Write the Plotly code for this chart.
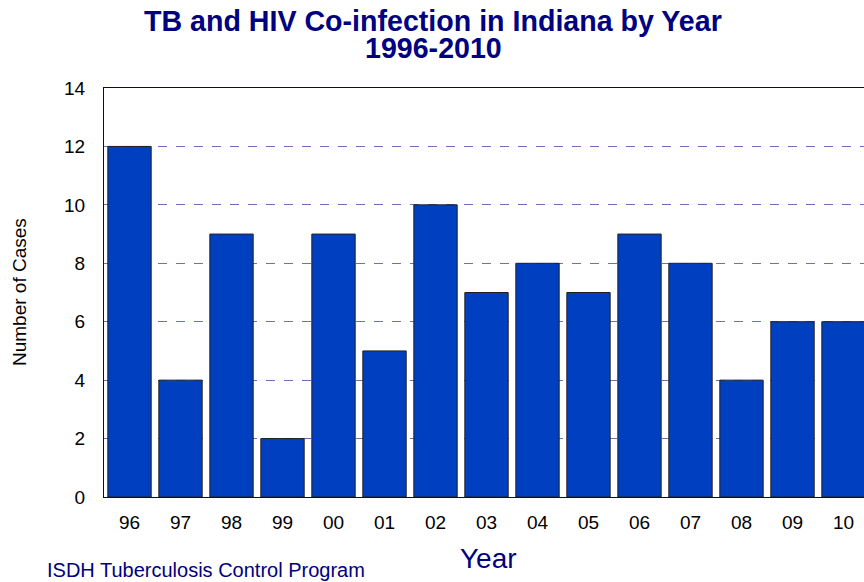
import plotly.graph_objects as go

years = ["96", "97", "98", "99", "00", "01", "02", "03", "04", "05", "06", "07", "08", "09", "10"]
cases = [12, 4, 9, 2, 9, 5, 10, 7, 8, 7, 9, 8, 4, 6, 6]
y_ticks = [0, 2, 4, 6, 8, 10, 12, 14]
title_lines = ["TB and HIV Co-infection in Indiana by Year", "1996-2010"]

NAVY = "#000080"
BAR = "#0040C0"
FONT = "Liberation Sans, Arial, sans-serif"

# plot area in pixels
L, T, B = 104, 88, 85
W, H = 870, 582
PW, PH = W - L - 1, H - T - B

fig = go.Figure(
    go.Bar(
        x=years,
        y=cases,
        marker=dict(color=BAR, line=dict(color="#202020", width=1)),
        hoverinfo="x+y",
    )
)

fig.update_layout(
    width=W,
    height=H,
    margin=dict(l=L, r=1, t=T, b=B),
    paper_bgcolor="white",
    plot_bgcolor="white",
    bargap=0.15,
    showlegend=False,
    font=dict(family=FONT, size=19, color="black"),
)

fig.update_xaxes(
    type="category",
    showline=True,
    linecolor=NAVY,
    linewidth=1,
    mirror=True,
    ticks="",
    tickfont=dict(size=19, color="black"),
    ticklabelstandoff=8,
    showgrid=False,
)

fig.update_yaxes(
    range=[0, 14],
    tickvals=y_ticks,
    showline=True,
    linecolor=NAVY,
    linewidth=1,
    mirror=True,
    ticks="",
    tickfont=dict(size=19, color="black"),
    ticklabelstandoff=14,
    showgrid=True,
    gridcolor="rgba(50,50,150,0.7)",
    griddash="dash",
    gridwidth=1,
    zeroline=False,
)

def px_x(x):
    return (x - L) / PW

def px_y(y):
    return (H - B - y) / PH

# title, two tightly spaced lines
for line, yc in zip(title_lines, [21, 48]):
    fig.add_annotation(
        text=f"<b>{line}</b>",
        xref="paper", yref="paper",
        x=px_x(433), y=px_y(yc),
        xanchor="center", yanchor="middle",
        showarrow=False,
        font=dict(family=FONT, size=28.6, color=NAVY),
    )

# axis titles
fig.add_annotation(
    text="Number of Cases",
    xref="paper", yref="paper",
    x=px_x(19), y=px_y(292),
    xanchor="center", yanchor="middle",
    textangle=-90,
    showarrow=False,
    font=dict(family=FONT, size=19, color="black"),
)
fig.add_annotation(
    text="Year",
    xref="paper", yref="paper",
    x=px_x(488), y=px_y(558),
    xanchor="center", yanchor="middle",
    showarrow=False,
    font=dict(family=FONT, size=28, color=NAVY),
)

# footer
fig.add_annotation(
    text="ISDH Tuberculosis Control Program",
    xref="paper", yref="paper",
    x=px_x(45), y=px_y(570),
    xanchor="left", yanchor="middle",
    showarrow=False,
    font=dict(family=FONT, size=20, color=NAVY),
)

fig.write_html("out.html")
